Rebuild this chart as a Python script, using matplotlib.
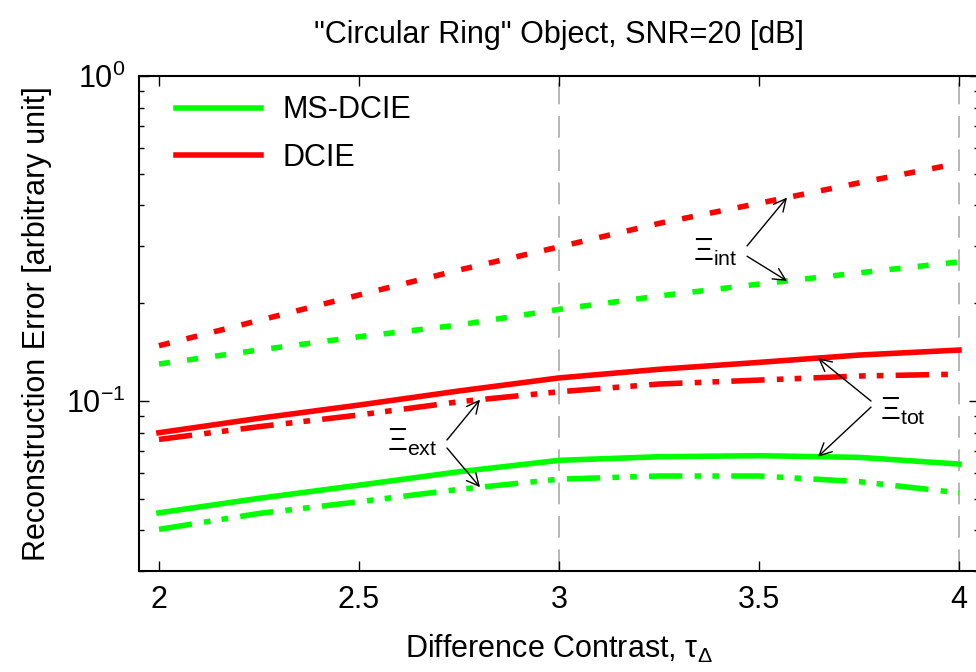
import matplotlib
matplotlib.use("Agg")
import matplotlib.pyplot as plt
import numpy as np
from matplotlib.ticker import NullFormatter

plt.rcParams["font.family"] = "Liberation Sans"
plt.rcParams["mathtext.fontset"] = "custom"
plt.rcParams["mathtext.rm"] = "Liberation Sans"
plt.rcParams["mathtext.it"] = "Liberation Sans:italic"
plt.rcParams["mathtext.bf"] = "Liberation Sans:bold"
plt.rcParams["axes.unicode_minus"] = False

### data
tau = [2.0, 2.25, 2.5, 2.75, 3.0, 3.25, 3.5, 3.75, 4.0]

## DCIE (red)
dcie_int = [0.148, 0.177, 0.212, 0.253, 0.298, 0.352, 0.406, 0.469, 0.539]
dcie_tot = [0.0799, 0.0885, 0.0972, 0.1074, 0.1178, 0.1252, 0.1315, 0.1385, 0.1435]
dcie_ext = [0.0762, 0.0834, 0.0906, 0.0995, 0.1068, 0.1128, 0.1160, 0.1194, 0.1210]

## MS-DCIE (green)
ms_int = [0.130, 0.1436, 0.1577, 0.1714, 0.1915, 0.2105, 0.229, 0.248, 0.268]
ms_tot = [0.0453, 0.0502, 0.0551, 0.0606, 0.0657, 0.0674, 0.0679, 0.0671, 0.0640]
ms_ext = [0.0403, 0.0451, 0.0490, 0.0535, 0.0575, 0.0588, 0.0588, 0.0565, 0.0522]

xticks = [2, 2.5, 3, 3.5, 4]
xtick_labels = ["2", "2.5", "3", "3.5", "4"]
guide_x = [3, 4]

red = "#ff0000"
green = "#00ff00"
lw = 4.0
dash = (2.0, 3.1)
dashdotdot = (6.0, 2.2, 1.2, 2.0, 1.2, 2.2)
fs = 22

fig = plt.figure(figsize=(9.76, 6.72), dpi=100)
ax = fig.add_axes([0.1424, 0.1503, 0.8607, 0.7366])

for gx in guide_x:
    ax.axvline(gx, color="#aaaaaa", lw=1.2, dashes=(13, 7), zorder=1)

ax.plot(tau, ms_tot, color=green, lw=lw, label="MS-DCIE", zorder=3)
ax.plot(tau, dcie_tot, color=red, lw=lw, label="DCIE", zorder=3)
ax.plot(tau, ms_int, color=green, lw=lw, dashes=dash, zorder=3)
ax.plot(tau, dcie_int, color=red, lw=lw, dashes=dash, zorder=3)
ax.plot(tau, ms_ext, color=green, lw=lw, dashes=dashdotdot, zorder=3)
ax.plot(tau, dcie_ext, color=red, lw=lw, dashes=dashdotdot, zorder=3)

ax.set_yscale("log")
ax.set_xlim(1.95, 4.05)
ax.set_ylim(0.03, 1.0)
ax.set_xticks(xticks)
ax.set_xticklabels(xtick_labels)
ax.yaxis.set_minor_formatter(NullFormatter())

ax.tick_params(which="both", direction="in", top=True, right=True,
               width=1.0, labelsize=fs)
ax.tick_params(which="major", length=7, pad=10)
ax.tick_params(which="minor", length=3.6)
for s in ax.spines.values():
    s.set_linewidth(1.5)


def on_curve(xv, series):
    return 10 ** np.interp(xv, tau, np.log10(series))


arrow = dict(arrowstyle="->", color="black", lw=1.0, shrinkA=0, shrinkB=0,
             mutation_scale=22)

# Xi_int
ax.text(3.4475, 0.2874, r"$\Xi_{\rm int}$", fontsize=fs, ha="right", va="center")
ax.annotate("", xy=(3.57, on_curve(3.57, dcie_int)), xytext=(3.47, 0.300), arrowprops=arrow)
ax.annotate("", xy=(3.57, on_curve(3.57, ms_int)), xytext=(3.47, 0.279), arrowprops=arrow)

# Xi_ext
ax.text(2.695, 0.0748, r"$\Xi_{\rm ext}$", fontsize=fs, ha="right", va="center")
ax.annotate("", xy=(2.8025, on_curve(2.8025, dcie_ext)), xytext=(2.72, 0.0759), arrowprops=arrow)
ax.annotate("", xy=(2.8025, on_curve(2.8025, ms_ext)), xytext=(2.72, 0.0717), arrowprops=arrow)

# Xi_tot
ax.text(3.8025, 0.0931, r"$\Xi_{\rm tot}$", fontsize=fs, ha="left", va="center")
ax.annotate("", xy=(3.6475, on_curve(3.6475, dcie_tot)), xytext=(3.78, 0.100), arrowprops=arrow)
ax.annotate("", xy=(3.6475, on_curve(3.6475, ms_tot)), xytext=(3.78, 0.0958), arrowprops=arrow)

ax.legend(loc="upper left", bbox_to_anchor=(0.044, 0.961), frameon=False,
          fontsize=fs, handlelength=2.8, handletextpad=0.7, borderpad=0,
          borderaxespad=0, labelspacing=0.58)

ax.set_title('"Circular Ring" Object, SNR=20 [dB]', fontsize=fs, pad=24)
ax.set_xlabel(r"Difference Contrast, $\mathrm{\tau}_{\Delta}$", fontsize=fs, labelpad=13)
ax.set_ylabel("Reconstruction Error [arbitrary unit]", fontsize=fs, labelpad=10)

fig.savefig("out.png", dpi=100)
